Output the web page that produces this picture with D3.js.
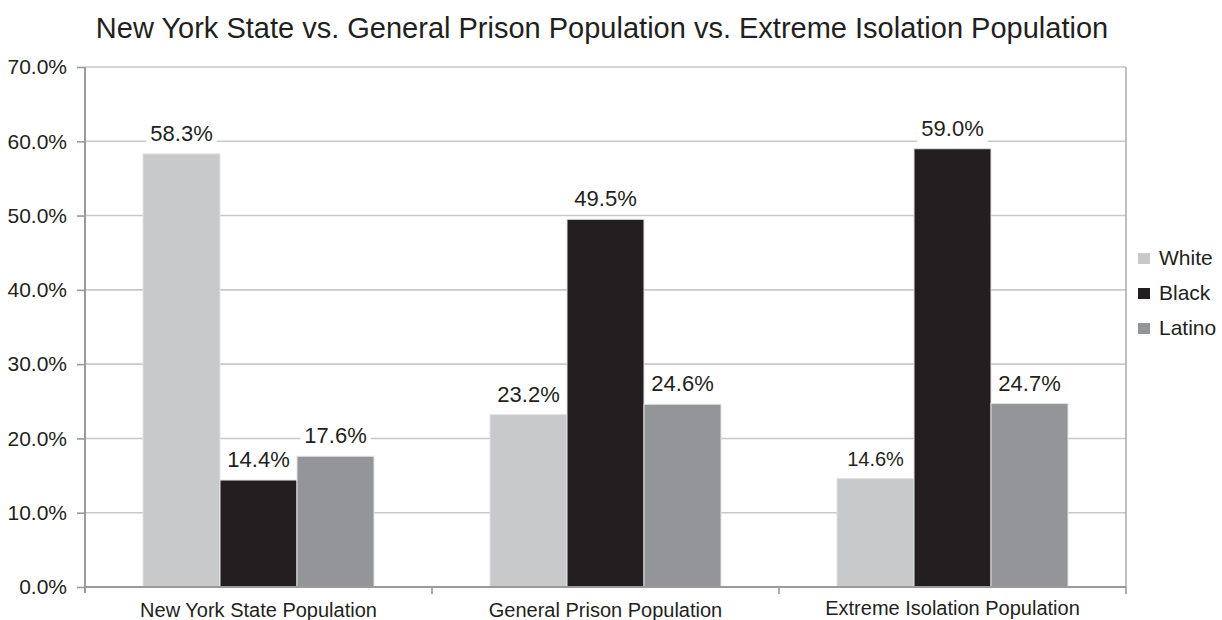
<!DOCTYPE html>
<html>
<head>
<meta charset="utf-8">
<script src="https://cdn.jsdelivr.net/npm/d3@7"></script>
<style>
  body { margin: 0; background: #fff; }
  svg { font-family: "Liberation Sans", Arial, Helvetica, sans-serif; }
</style>
</head>
<body>
<svg id="chart"></svg>
<script>
// data
const categories = ["New York State Population", "General Prison Population", "Extreme Isolation Population"];
const seriesNames = ["White", "Black", "Latino"];
const white = [58.3, 23.2, 14.6];
const black = [14.4, 49.5, 59.0];
const latino = [17.6, 24.6, 24.7];
const yTicks = [0, 10, 20, 30, 40, 50, 60, 70];

const colors = {"White": "#c8c9cb", "Black": "#231f20", "Latino": "#939598"};

let layout = {"width": 1222, "height": 620,
              "marginTop": 67, "marginRight": 96,
              "marginBottom": 33, "marginLeft": 85};

const values = {"White": white, "Black": black, "Latino": latino};
const rows = [];
categories.forEach((c, i) => {
  seriesNames.forEach(s => rows.push({cat: c, series: s, value: values[s][i]}));
});

const svg = d3.select("#chart")
  .attr("width", layout.width)
  .attr("height", layout.height);

const x0 = d3.scaleBand()
  .domain(categories)
  .range([layout.marginLeft, layout.width - layout.marginRight])
  .padding(0);

// each group: 3 bars of ~77px in a 347px band
const x1 = d3.scaleBand()
  .domain(seriesNames)
  .range([58, x0.bandwidth() - 58])
  .padding(0);

const y = d3.scaleLinear()
  .domain([0, 70])
  .range([layout.height - layout.marginBottom, layout.marginTop]);

const plotRight = layout.width - layout.marginRight;
const plotBottom = layout.height - layout.marginBottom;

// gridlines
svg.append("g")
  .selectAll("line")
  .data(yTicks.filter(d => d > 0))
  .join("line")
  .attr("x1", layout.marginLeft)
  .attr("x2", plotRight)
  .attr("y1", d => y(d))
  .attr("y2", d => y(d))
  .attr("stroke", "#c8c8c8")
  .attr("stroke-width", 1.6);

// right border
svg.append("line")
  .attr("x1", plotRight).attr("x2", plotRight)
  .attr("y1", y(70)).attr("y2", plotBottom)
  .attr("stroke", "#b0b0b0")
  .attr("stroke-width", 1.6);

// bars
svg.append("g")
  .selectAll("rect")
  .data(rows)
  .join("rect")
  .attr("x", d => x0(d.cat) + x1(d.series))
  .attr("y", d => y(d.value))
  .attr("width", x1.bandwidth())
  .attr("height", d => y(0) - y(d.value))
  .attr("fill", d => colors[d.series])
  .attr("stroke", "#e2e2e2")
  .attr("stroke-width", 1);

// y axis
const yAxis = svg.append("g")
  .attr("transform", `translate(${layout.marginLeft},0)`)
  .call(d3.axisLeft(y).tickValues(yTicks).tickSize(8).tickPadding(10)
        .tickFormat(d => d.toFixed(1) + "%"));
yAxis.select(".domain").attr("stroke", "#9a9a9a").attr("stroke-width", 2)
  .attr("d", `M0,${y(70)}V${plotBottom + 6}`);
yAxis.selectAll(".tick line").attr("stroke", "#9a9a9a").attr("stroke-width", 1.6);
yAxis.selectAll(".tick text").attr("font-size", 21).attr("fill", "#231f20")
  .attr("font-family", "Liberation Sans, Arial, sans-serif");

// x axis
const xAxis = svg.append("g")
  .attr("transform", `translate(0,${plotBottom})`);
xAxis.append("line")
  .attr("x1", layout.marginLeft).attr("x2", plotRight)
  .attr("stroke", "#9a9a9a").attr("stroke-width", 2);
xAxis.selectAll(".sep")
  .data(categories.slice(1).concat([null]))
  .join("line")
  .attr("class", "sep")
  .attr("x1", d => d ? x0(d) : plotRight)
  .attr("x2", d => d ? x0(d) : plotRight)
  .attr("y1", 0).attr("y2", 7)
  .attr("stroke", "#9a9a9a").attr("stroke-width", 1.6);
xAxis.selectAll(".cat")
  .data(categories)
  .join("text")
  .attr("class", "cat")
  .attr("x", d => x0(d) + x0.bandwidth() / 2)
  .attr("y", (d, i) => i === 2 ? 28 : 30)
  .attr("text-anchor", "middle")
  .attr("font-size", 20)
  .attr("fill", "#231f20")
  .text(d => d);

// value labels with white boxes
const labelSize = d => (d.cat === categories[2] && d.series === "White") ? 20 : 22;
const labels = svg.append("g")
  .selectAll("g")
  .data(rows)
  .join("g")
  .attr("transform", d => `translate(${x0(d.cat) + x1(d.series) + x1.bandwidth() / 2},${y(d.value) - 13})`);
labels.append("rect").attr("fill", "#fff");
labels.append("text")
  .attr("text-anchor", "middle")
  .attr("font-size", labelSize)
  .attr("fill", "#231f20")
  .text(d => d.value.toFixed(1) + "%");
labels.each(function() {
  const g = d3.select(this);
  const b = g.select("text").node().getBBox();
  g.select("rect")
    .attr("x", b.x - 4).attr("y", b.y - 1)
    .attr("width", b.width + 8).attr("height", b.height + 3);
});

// legend
const legend = svg.append("g")
  .selectAll("g")
  .data(seriesNames)
  .join("g")
  .attr("transform", (d, i) => `translate(1138,${265 + i * 35})`);
legend.append("rect")
  .attr("x", 0).attr("y", -12)
  .attr("width", 12).attr("height", 11)
  .attr("fill", d => colors[d]);
legend.append("text")
  .attr("x", 21).attr("y", 0)
  .attr("font-size", 21)
  .attr("fill", "#231f20")
  .text(d => d);

// title
svg.append("text")
  .attr("x", 602).attr("y", 38)
  .attr("text-anchor", "middle")
  .attr("font-size", 29)
  .attr("fill", "#231f20")
  .text("New York State vs. General Prison Population vs. Extreme Isolation Population");
</script>
</body>
</html>
